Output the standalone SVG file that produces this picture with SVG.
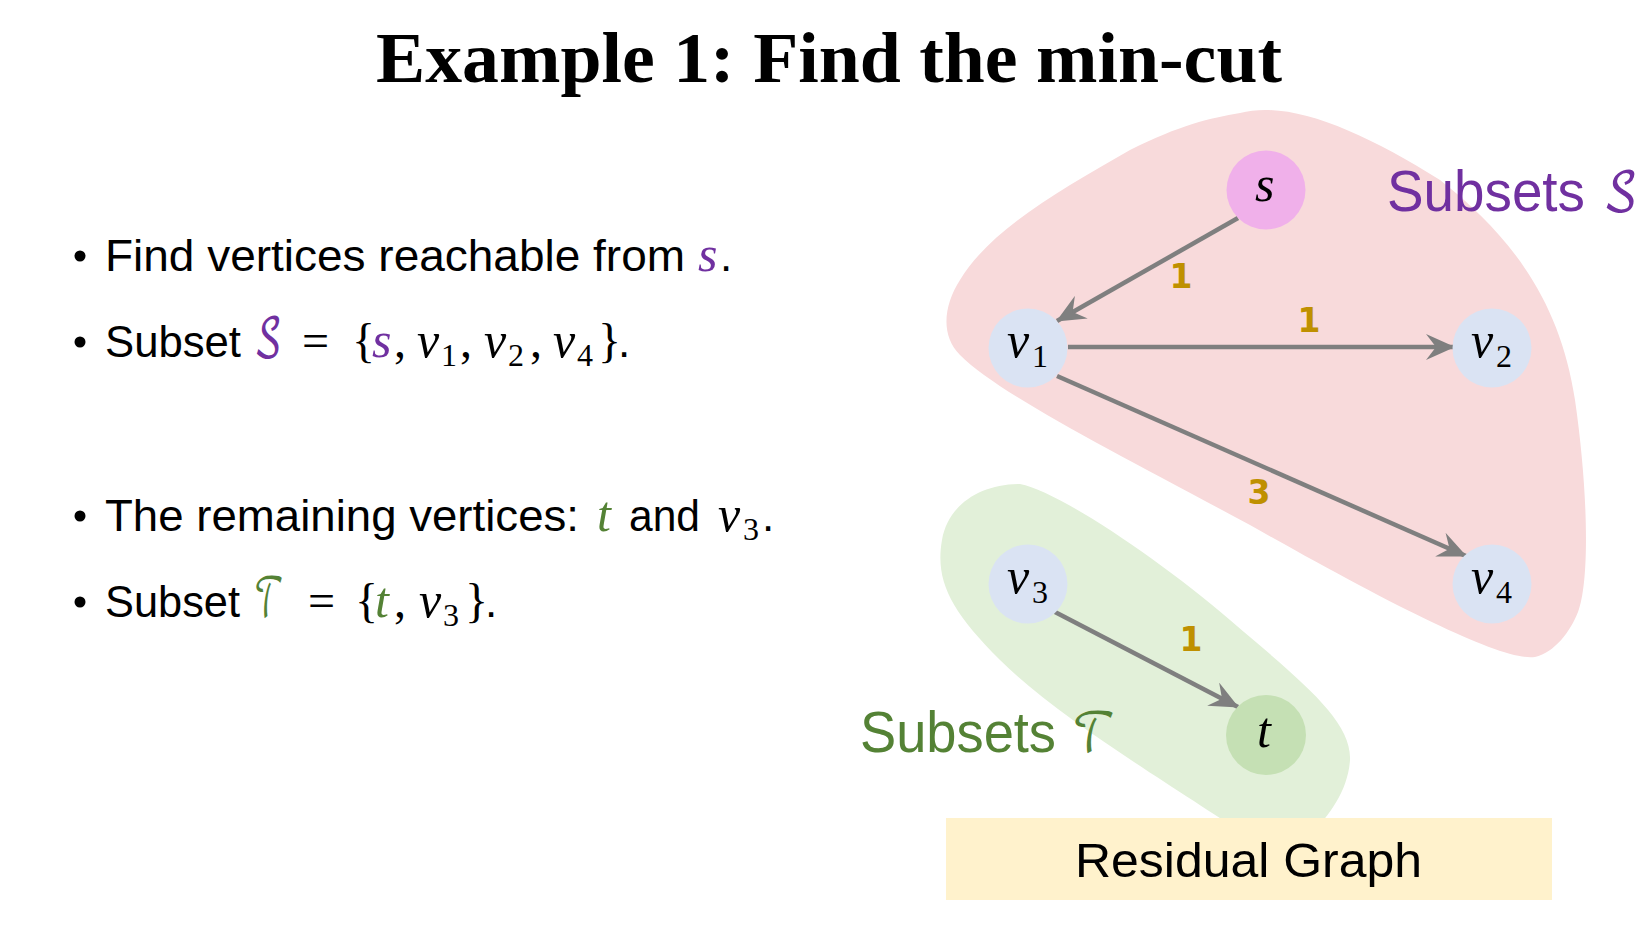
<svg xmlns="http://www.w3.org/2000/svg" width="1648" height="932" viewBox="0 0 1648 932">
<style>
.body{font-family:"Liberation Sans",Arial,sans-serif;font-size:44px;fill:#000}
.mi{font-family:"Liberation Serif","DejaVu Serif",serif;font-style:italic;font-size:50px}
.mu{font-family:"Liberation Serif","DejaVu Serif",serif;font-size:48px}
.sub{font-family:"Liberation Serif","DejaVu Serif",serif;font-size:32px}
.scr{font-family:"DejaVu Math TeX Gyre","DejaVu Serif",serif;font-size:54px}
.nl{font-family:"Liberation Serif","DejaVu Serif",serif;font-style:italic;font-size:50px;fill:#000}
.ns{font-family:"Liberation Serif","DejaVu Serif",serif;font-size:32px;fill:#000}
.el{font-family:"DejaVu Sans","Liberation Sans",sans-serif;font-weight:bold;font-size:33px;fill:#BF9000;text-anchor:middle}
.edge{stroke:#7F7F7F;stroke-width:4.5;fill:none;marker-end:url(#arr)}
.vn{fill:#DAE3F3}
.pur{fill:#7030A0}
.grn{fill:#548235}
</style>
<defs>
<marker id="arr" viewBox="0 0 29 26" refX="28" refY="13" markerWidth="29" markerHeight="26" markerUnits="userSpaceOnUse" orient="auto">
<path d="M0,0 L29,13 L0,26 L10,13 z" fill="#7F7F7F"/>
</marker>
</defs>
<rect width="1648" height="932" fill="#fff"/>

<g id="title">
<text x="376" y="82" font-family="'Liberation Serif',serif" font-weight="bold" font-size="72" textLength="906" lengthAdjust="spacingAndGlyphs">Example 1: Find the min-cut</text>
</g>

<g id="bullets">
<circle cx="80" cy="256" r="5.5"/>
<circle cx="80" cy="342" r="5.5"/>
<circle cx="80" cy="516" r="5.5"/>
<circle cx="80" cy="602" r="5.5"/>

<text class="body" x="105" y="271" textLength="580" lengthAdjust="spacingAndGlyphs">Find vertices reachable from</text>
<text class="mi pur" x="698" y="271">s</text>
<text class="body" x="720" y="271">.</text>

<text class="body" x="105" y="357" textLength="136" lengthAdjust="spacingAndGlyphs">Subset</text>
<text class="scr pur" x="254" y="357" textLength="28" lengthAdjust="spacingAndGlyphs">𝒮</text>
<text class="mu" x="302" y="357">=</text>
<text class="mu" x="352" y="357">{</text>
<text class="mi pur" x="372" y="357">s</text>
<text class="mu" x="394" y="357">,</text>
<text class="mi" x="417" y="357">v</text>
<text class="sub" x="441" y="366">1</text>
<text class="mu" x="460" y="357">,</text>
<text class="mi" x="484" y="357">v</text>
<text class="sub" x="508" y="366">2</text>
<text class="mu" x="530" y="357">,</text>
<text class="mi" x="553" y="357">v</text>
<text class="sub" x="577" y="366">4</text>
<text class="mu" x="598" y="357" font-size="44">}</text>
<text class="body" x="618" y="357">.</text>

<text class="body" x="105" y="531" textLength="474" lengthAdjust="spacingAndGlyphs">The remaining vertices:</text>
<text class="mi grn" x="597" y="531">t</text>
<text class="body" x="629" y="531" textLength="71" lengthAdjust="spacingAndGlyphs">and</text>
<text class="mi" x="718" y="531">v</text>
<text class="sub" x="743" y="540">3</text>
<text class="body" x="762" y="531">.</text>

<text class="body" x="105" y="617" textLength="135" lengthAdjust="spacingAndGlyphs">Subset</text>
<text class="scr grn" x="254" y="617" textLength="30" lengthAdjust="spacingAndGlyphs">𝒯</text>
<text class="mu" x="308" y="617">=</text>
<text class="mu" x="355" y="617">{</text>
<text class="mi grn" x="375" y="617">t</text>
<text class="mu" x="394" y="617">,</text>
<text class="mi" x="419" y="617">v</text>
<text class="sub" x="443" y="626">3</text>
<text class="mu" x="465" y="617" font-size="44">}</text>
<text class="body" x="485" y="617">.</text>
</g>

<g id="subsetS">
<path d="M1240,113 C1290,100 1360,130 1440,180 C1510,235 1560,300 1575,400 C1588,490 1590,580 1578,612 C1570,632 1555,652 1535,657 C1505,662 1400,610 1250,525 C1120,455 1000,395 960,355 C940,335 944,305 960,280 C990,230 1060,190 1130,150 C1180,125 1210,118 1240,113 Z" fill="#F8DADB"/>
<text x="1387" y="211" font-family="'Liberation Sans',sans-serif" font-size="58" class="pur" textLength="198" lengthAdjust="spacingAndGlyphs">Subsets</text>
<text class="scr pur" x="1603" y="211" font-size="66" textLength="35" lengthAdjust="spacingAndGlyphs">𝒮</text>
</g>

<g id="subsetT">
<path d="M1020,484 C1060,492 1160,560 1230,620 C1300,680 1352,720 1350,760 C1348,790 1330,815 1310,835 L1245,835 C1180,790 1060,720 1000,660 C950,610 935,580 942,540 C948,505 980,484 1020,484 Z" fill="#E2F0D9"/>
<text x="860" y="752" font-family="'Liberation Sans',sans-serif" font-size="58" class="grn" textLength="196" lengthAdjust="spacingAndGlyphs">Subsets</text>
<text class="scr grn" x="1072" y="752" font-size="66" textLength="44" lengthAdjust="spacingAndGlyphs">𝒯</text>
</g>

<g id="connectors">
<line class="edge" x1="1238" y1="218" x2="1057" y2="321"/>
<line class="edge" x1="1068" y1="347" x2="1454" y2="347"/>
<line class="edge" x1="1057" y1="376" x2="1466" y2="556"/>
<line class="edge" x1="1055" y1="612" x2="1238" y2="707"/>
<text class="el" x="1181" y="288">1</text>
<text class="el" x="1309" y="332">1</text>
<text class="el" x="1259" y="504">3</text>
<text class="el" x="1191" y="651">1</text>
</g>

<g id="node-s">
<circle cx="1266" cy="190" r="39.5" fill="#F0B0EA"/>
<text class="nl" x="1255" y="201">s</text>
</g>
<g id="node-v1">
<circle cx="1028" cy="348" r="39.5" class="vn"/>
<text class="nl" x="1007" y="357">v</text>
<text class="ns" x="1032" y="367">1</text>
</g>
<g id="node-v2">
<circle cx="1492" cy="348" r="39.5" class="vn"/>
<text class="nl" x="1471" y="357">v</text>
<text class="ns" x="1496" y="367">2</text>
</g>
<g id="node-v3">
<circle cx="1028" cy="584" r="39.5" class="vn"/>
<text class="nl" x="1007" y="593">v</text>
<text class="ns" x="1032" y="603">3</text>
</g>
<g id="node-v4">
<circle cx="1492" cy="584" r="39.5" class="vn"/>
<text class="nl" x="1471" y="593">v</text>
<text class="ns" x="1496" y="603">4</text>
</g>
<g id="node-t">
<circle cx="1266" cy="735" r="40" fill="#C5E0B4"/>
<text class="nl" x="1257" y="747">t</text>
</g>

<g id="residual">
<rect x="946" y="818" width="606" height="82" fill="#FFF2CC"/>
<text x="1075" y="877" font-family="'Liberation Sans',sans-serif" font-size="49" textLength="347" lengthAdjust="spacingAndGlyphs">Residual Graph</text>
</g>
</svg>
